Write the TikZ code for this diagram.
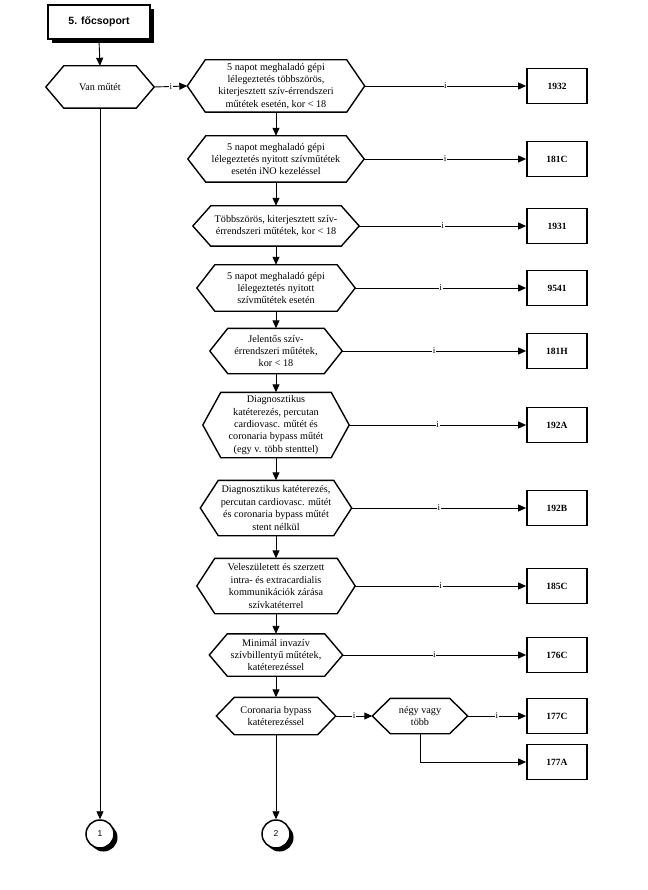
\documentclass[tikz,border=0pt]{standalone}
\usepackage{fontspec}
\setmainfont{Liberation Serif}
\setsansfont{Liberation Sans}
\usetikzlibrary{arrows.meta,shadows}

% hexagon round a decision node
\newcommand{\hexa}[1]{%
  \draw[hexline] (#1.west) -- ([xshift=18pt]#1.north west) -- ([xshift=-18pt]#1.north east)
    -- (#1.east) -- ([xshift=-18pt]#1.south east) -- ([xshift=18pt]#1.south west) -- cycle;}

\begin{document}
\begin{tikzpicture}[x=1pt,y=-1pt,
  hexline/.style={line width=1.4pt,line join=miter},
  cond/.style={inner sep=0pt,align=center,font=\fontsize{10.2}{12.4}\selectfont},
  code/.style={draw,line width=1.8pt,minimum width=60pt,minimum height=35pt,font=\fontsize{9.5}{11}\selectfont\bfseries},
  arr/.style={-{Triangle[length=8pt,width=7pt]},line width=0.9pt},
  yes/.style={fill=white,inner sep=0.6pt,font=\fontsize{9}{9}\selectfont},
  conn/.style={circle,draw,line width=1.5pt,fill=white,minimum size=28pt,inner sep=0pt,
    drop shadow={shadow xshift=3.5pt,shadow yshift=-3.5pt,opacity=1,fill=black},
    font=\sffamily\fontsize{8.5}{9}\selectfont}]
  \useasboundingbox (0,0) rectangle (647,890);

  \node[draw,line width=1.8pt,fill=white,minimum width=102pt,minimum height=34pt,
    drop shadow={shadow xshift=4pt,shadow yshift=-4pt,opacity=1,fill=black},
    font=\sffamily\bfseries\fontsize{10.5}{12}\selectfont] (title) at (99,22) {5. főcsoport};

  \node[cond,minimum width=108pt,minimum height=42pt] (vanmutet) at (100,87) {Van műtét};
  \hexa{vanmutet}

  \node[cond,minimum width=177pt,minimum height=52pt] (h1) at (276,86)
    {5 napot meghaladó gépi\\lélegeztetés többszörös,\\kiterjesztett szív-érrendszeri\\műtétek esetén, kor < 18};
  \node[cond,minimum width=176pt,minimum height=46pt] (h2) at (276,159)
    {5 napot meghaladó gépi\\lélegeztetés nyitott szívműtétek\\esetén iNO kezeléssel};
  \node[cond,minimum width=166pt,minimum height=40pt] (h3) at (276,226)
    {Többszörös, kiterjesztett szív-\\érrendszeri műtétek, kor < 18};
  \node[cond,minimum width=158pt,minimum height=46pt] (h4) at (276,288)
    {5 napot meghaladó gépi\\lélegeztetés nyitott\\szívműtétek esetén};
  \node[cond,minimum width=132pt,minimum height=45pt] (h5) at (276,351)
    {Jelentős szív-\\érrendszeri műtétek,\\kor < 18};
  \node[cond,minimum width=146pt,minimum height=65pt] (h6) at (276,425)
    {Diagnosztikus\\katéterezés, percutan\\cardiovasc. műtét és\\coronaria bypass műtét\\(egy v. több stenttel)};
  \node[cond,minimum width=151pt,minimum height=55pt] (h7) at (276,508)
    {Diagnosztikus katéterezés,\\percutan cardiovasc. műtét\\és coronaria bypass műtét\\stent nélkül};
  \node[cond,minimum width=158pt,minimum height=55pt] (h8) at (276,586)
    {Veleszületett és szerzett\\intra- és extracardialis\\kommunikációk zárása\\szívkatéterrel};
  \node[cond,minimum width=133pt,minimum height=42pt] (h9) at (276,655)
    {Minimál invazív\\szívbillentyű műtétek,\\katéterezéssel};
  \node[cond,minimum width=119pt,minimum height=37pt] (h10) at (276,716)
    {Coronaria bypass\\katéterezéssel};
  \node[cond,minimum width=95pt,minimum height=35pt] (negy) at (420,716) {négy vagy\\több};
  \foreach \n in {h1,h2,h3,h4,h5,h6,h7,h8,h9,h10,negy} {\hexa{\n}}

  \node[code] (b1932) at (557,86) {1932};
  \node[code] (b181C) at (557,159) {181C};
  \node[code] (b1931) at (557,226) {1931};
  \node[code] (b9541) at (557,288) {9541};
  \node[code] (b181H) at (557,351) {181H};
  \node[code] (b192A) at (557,425) {192A};
  \node[code] (b192B) at (557,508) {192B};
  \node[code] (b185C) at (557,586) {185C};
  \node[code] (b176C) at (557,655) {176C};
  \node[code] (b177C) at (557,716) {177C};
  \node[code] (b177A) at (557,762) {177A};

  \node[conn] (c1) at (100,834) {1};
  \node[conn] (c2) at (276,834) {2};

  % connectors
  \draw[arr] (title.south) -- (vanmutet.north);
  \draw[arr] (vanmutet.east) -- node[yes] {i} (h1.west);
  \draw[arr] (vanmutet.south) -- (c1.north);
  \draw[arr] (h1.east) -- node[yes] {i} (b1932.west);
  \draw[arr] (h2.east) -- node[yes] {i} (b181C.west);
  \draw[arr] (h3.east) -- node[yes] {i} (b1931.west);
  \draw[arr] (h4.east) -- node[yes] {i} (b9541.west);
  \draw[arr] (h5.east) -- node[yes] {i} (b181H.west);
  \draw[arr] (h6.east) -- node[yes] {i} (b192A.west);
  \draw[arr] (h7.east) -- node[yes] {i} (b192B.west);
  \draw[arr] (h8.east) -- node[yes] {i} (b185C.west);
  \draw[arr] (h9.east) -- node[yes] {i} (b176C.west);
  \draw[arr] (h10.east) -- node[yes] {i} (negy.west);
  \draw[arr] (negy.east) -- node[yes] {i} (b177C.west);
  \draw[arr] (negy.south) |- (b177A.west);
  \draw[arr] (h1) -- (h2);
  \draw[arr] (h2) -- (h3);
  \draw[arr] (h3) -- (h4);
  \draw[arr] (h4) -- (h5);
  \draw[arr] (h5) -- (h6);
  \draw[arr] (h6) -- (h7);
  \draw[arr] (h7) -- (h8);
  \draw[arr] (h8) -- (h9);
  \draw[arr] (h9) -- (h10);
  \draw[arr] (h10.south) -- (c2.north);
\end{tikzpicture}
\end{document}
